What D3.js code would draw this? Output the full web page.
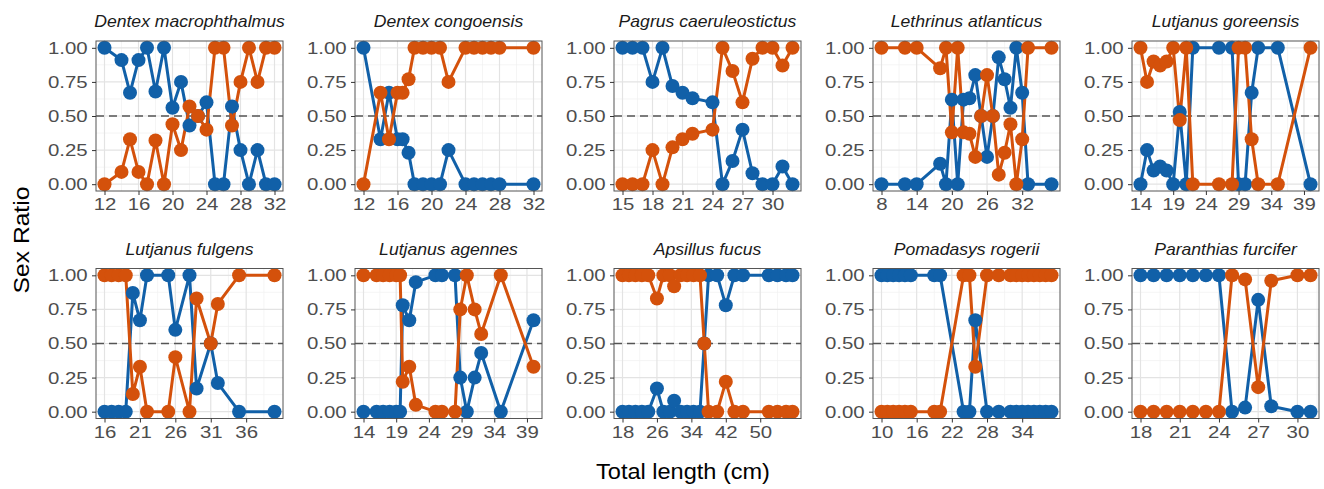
<!DOCTYPE html>
<html>
<head>
<meta charset="utf-8">
<script src="https://cdn.jsdelivr.net/npm/d3@7"></script>
<style>
  body { margin: 0; background: #fff; }
  svg { display: block; font-family: "Liberation Sans", Arial, sans-serif; }
</style>
</head>
<body>
<svg id="chart" width="1324" height="489"></svg>
<script>
// species shown in each facet, row by row
const species = ["Dentex macrophthalmus", "Dentex congoensis", "Pagrus caeruleostictus",
  "Lethrinus atlanticus", "Lutjanus goreensis", "Lutjanus fulgens", "Lutjanus agennes",
  "Apsillus fucus", "Pomadasys rogerii", "Paranthias furcifer"];

// total length classes (cm) per species
const lengthCm = [
  [12,14,15,16,17,18,19,20,21,22,23,24,25,26,27,28,29,30,31,32],
  [12,14,15,16,16.6,17.3,18,19,20,21,22,24,25,26,27,28,32],
  [15,16,17,18,19,20,21,22,24,25,26,27,28,29,30,31,32],
  [8,12,14,18,19,20,21,22,23,24,25,26,27,28,29,30,31,32,33,37],
  [14,15,16,17,18,19,20,21,22,26,28,29,30,31,32,35,40],
  [16,17,18,19,20,21,22,25,26,28,29,31,32,35,40],
  [14,16,17,18,19,19.6,20,21,22,25,26,28,28.8,29.8,31,32,35,40],
  [18,19.5,21,22.5,24,26,27.5,29,30,31.5,33,34.5,36,37,38,40,42,44,46,52,54,56,57.5],
  [10,11,12,13,14,15,19,20,24,25,26,28,30,32,33,34,35,36,37,38,39],
  [18,19,20,21,22,23,24,25,26,27,28,30,31]
];

// blue series ratio
const blueRatio = [
  [1,0.91,0.67,0.91,1,0.68,1,0.56,0.75,0.43,0.5,0.6,0,0,0.57,0.25,0,0.25,0,0],
  [1,0.33,0.67,0.33,0.33,0.23,0,0,0,0,0.25,0,0,0,0,0,0],
  [1,1,1,0.75,1,0.72,0.67,0.63,0.6,0,0.17,0.4,0.08,0,0,0.13,0],
  [0,0,0,0.15,0,0.62,0,0.62,0.63,0.8,0.5,0.2,0.5,0.93,0.77,0.56,1,0.67,0,0],
  [0,0.25,0.1,0.13,0.1,0,0.53,0,1,1,1,0,0,0.67,1,1,0],
  [0,0,0,0,0.87,0.67,1,1,0.6,1,0.17,0.5,0.21,0,0],
  [0,0,0,0,0,0,0.78,0.67,0.95,1,1,1,0.25,0,0.25,0.43,0,0.67],
  [0,0,0,0,0,0.17,0,0,0.08,0,0,0,0,0.5,1,1,0.78,1,1,1,1,1,1],
  [1,1,1,1,1,1,1,1,0,0,0.67,0,0,0,0,0,0,0,0,0,0],
  [1,1,1,1,1,1,1,0,0.03,0.82,0.04,0,0]
];

// orange series ratio
const orangeRatio = [
  [0,0.09,0.33,0.09,0,0.32,0,0.44,0.25,0.57,0.5,0.4,1,1,0.43,0.75,1,0.75,1,1],
  [0,0.67,0.33,0.67,0.67,0.77,1,1,1,1,0.75,1,1,1,1,1,1],
  [0,0,0,0.25,0,0.27,0.33,0.37,0.4,1,0.83,0.6,0.92,1,1,0.87,1],
  [1,1,1,0.85,1,0.38,1,0.38,0.37,0.2,0.5,0.8,0.5,0.07,0.23,0.44,0,0.33,1,1],
  [1,0.75,0.9,0.87,0.9,1,0.47,1,0,0,0,1,1,0.33,0,0,1],
  [1,1,1,1,0.13,0.33,0,0,0.4,0,0.83,0.5,0.79,1,1],
  [1,1,1,1,1,1,0.22,0.33,0.05,0,0,0,0.75,1,0.75,0.57,1,0.33],
  [1,1,1,1,1,0.83,1,1,0.92,1,1,1,1,0.5,0,0,0.22,0,0,0,0,0,0],
  [0,0,0,0,0,0,0,0,1,1,0.33,1,1,1,1,1,1,1,1,1,1],
  [0,0,0,0,0,0,0,1,0.97,0.18,0.96,1,1]
];

// x axis breaks per facet
const xTicks = [
  [12,16,20,24,28,32],
  [12,16,20,24,28,32],
  [15,18,21,24,27,30],
  [8,14,20,26,32],
  [14,19,24,29,34,39],
  [16,21,26,31,36],
  [14,19,24,29,34,39],
  [18,26,34,42,50],
  [10,16,22,28,34],
  [18,21,24,27,30]
];
const yTicks = [0, 0.25, 0.5, 0.75, 1];

const BLUE = "#1160a8", ORANGE = "#d4510b";
const panelW = 187, panelH = 150;
const colX = [96, 355, 614, 873, 1132];
const rowY = [41, 268.5];

const svg = d3.select("#chart");

species.forEach((name, i) => {
  const left = colX[i % 5], top = rowY[Math.floor(i / 5)];
  const xs = lengthCm[i];
  const ext = d3.extent(xs), pad = (ext[1] - ext[0]) * 0.05;
  const x = d3.scaleLinear().domain([ext[0] - pad, ext[1] + pad]).range([left, left + panelW]);
  const y = d3.scaleLinear().domain([-0.05, 1.05]).range([top + panelH, top]);
  const g = svg.append("g");

  // grid, minor first
  const tk = xTicks[i], step = tk[1] - tk[0];
  const xMinor = d3.range(tk[0] - step / 2, tk[tk.length - 1] + step, step)
    .filter(v => v > x.domain()[0] && v < x.domain()[1]);
  const yMinor = [0.125, 0.375, 0.625, 0.875];
  g.selectAll(".xmin").data(xMinor).join("line")
    .attr("x1", d => x(d)).attr("x2", d => x(d)).attr("y1", top).attr("y2", top + panelH)
    .attr("stroke", "#f0f0f0").attr("stroke-width", 0.7);
  g.selectAll(".ymin").data(yMinor).join("line")
    .attr("x1", left).attr("x2", left + panelW).attr("y1", d => y(d)).attr("y2", d => y(d))
    .attr("stroke", "#f0f0f0").attr("stroke-width", 0.7);
  g.selectAll(".xmaj").data(tk).join("line")
    .attr("x1", d => x(d)).attr("x2", d => x(d)).attr("y1", top).attr("y2", top + panelH)
    .attr("stroke", "#e3e3e3").attr("stroke-width", 1.2);
  g.selectAll(".ymaj").data(yTicks).join("line")
    .attr("x1", left).attr("x2", left + panelW).attr("y1", d => y(d)).attr("y2", d => y(d))
    .attr("stroke", "#e3e3e3").attr("stroke-width", 1.2);

  // 50:50 reference
  g.append("line")
    .attr("x1", left).attr("x2", left + panelW).attr("y1", y(0.5)).attr("y2", y(0.5))
    .attr("stroke", "#555").attr("stroke-width", 1.5).attr("stroke-dasharray", "8,5");

  const series = [
    {color: BLUE, vals: blueRatio[i]},
    {color: ORANGE, vals: orangeRatio[i]}
  ];
  const line = d3.line().x(d => x(d[0])).y(d => y(d[1]));
  series.forEach(s => {
    g.append("path").datum(xs.map((v, k) => [v, s.vals[k]]))
      .attr("d", line).attr("fill", "none")
      .attr("stroke", s.color).attr("stroke-width", 3).attr("stroke-linejoin", "round");
  });
  series.forEach(s => {
    g.selectAll(null).data(xs.map((v, k) => [v, s.vals[k]])).join("circle")
      .attr("cx", d => x(d[0])).attr("cy", d => y(d[1])).attr("r", 7)
      .attr("fill", s.color);
  });

  g.append("rect").attr("x", left).attr("y", top).attr("width", panelW).attr("height", panelH)
    .attr("fill", "none").attr("stroke", "#555").attr("stroke-width", 1);

  // axes
  const ax = g.append("g").attr("transform", `translate(0,${top + panelH})`)
    .call(d3.axisBottom(x).tickValues(tk).tickSize(4).tickPadding(3));
  const ay = g.append("g").attr("transform", `translate(${left},0)`)
    .call(d3.axisLeft(y).tickValues(yTicks).tickFormat(d3.format(".2f")).tickSize(4).tickPadding(3));
  [ax, ay].forEach(a => {
    a.select(".domain").remove();
    a.selectAll("line").attr("stroke", "#333");
    a.selectAll("text").attr("fill", "#4d4d4d").style("font-size", "17px")
      .style("font-family", "Liberation Sans, Arial, sans-serif")
      .attr("transform", "scale(1.2,1)");
  });

  g.append("text").attr("transform", `translate(${left + panelW / 2},${top - 14}) scale(1.1,1)`)
    .attr("text-anchor", "middle").style("font-style", "italic").style("font-size", "16px")
    .attr("fill", "#1a1a1a").text(name);
});

svg.append("text").attr("transform", "translate(683,479) scale(1.07,1)").attr("text-anchor", "middle")
  .style("font-size", "22px").attr("fill", "#000").text("Total length (cm)");
svg.append("text").attr("transform", "translate(29,240) rotate(-90) scale(1.12,1)").attr("text-anchor", "middle")
  .style("font-size", "22px").attr("fill", "#000").text("Sex Ratio");
</script>
</body>
</html>
